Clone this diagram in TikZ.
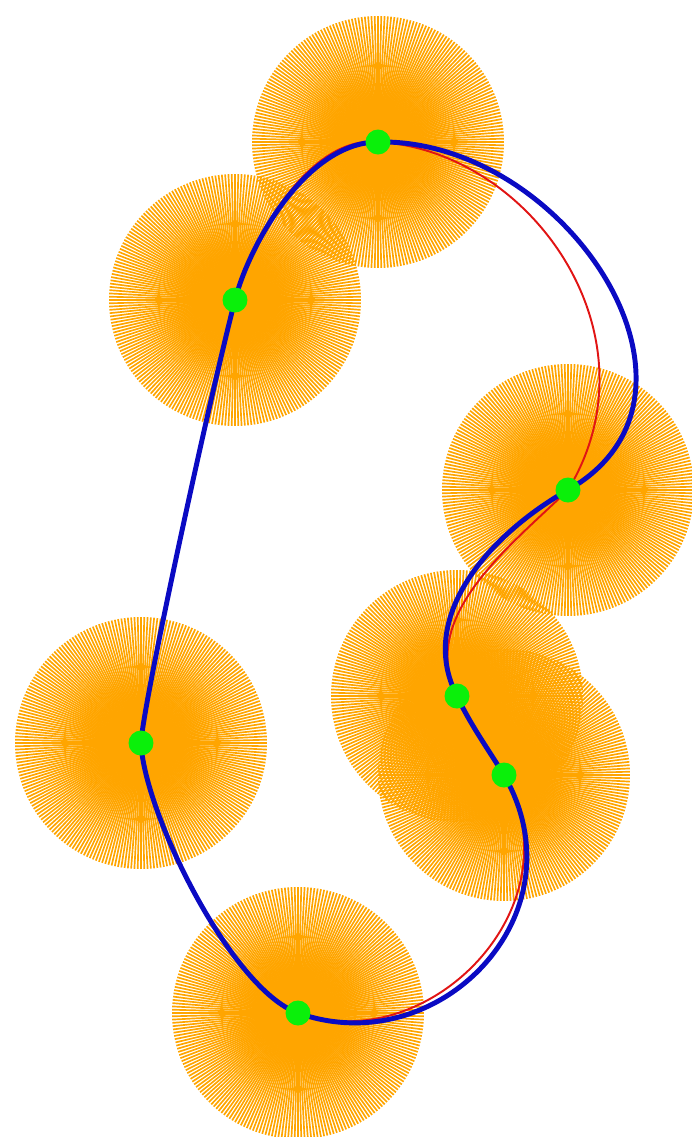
\documentclass[tikz,border=0pt]{standalone}
\definecolor{disk}{RGB}{255,165,0}
\definecolor{dot}{RGB}{10,240,10}
\definecolor{curveblue}{RGB}{10,10,195}
\definecolor{curvered}{RGB}{225,20,20}
\tikzset{
  burst/.style={disk, line width=0.95pt},
  bluecurve/.style={curveblue, line width=2.8pt},
  redcurve/.style={curvered, line width=1.1pt},
  greendot/.style={circle, fill=dot, inner sep=0pt, minimum size=0.5cm}
}
\begin{document}
\begin{tikzpicture}[x=0.02cm,y=-0.02cm]
\useasboundingbox (0,0) rectangle (691,1137);
\coordinate (A) at (378,142);
\coordinate (B) at (568,490);
\coordinate (C) at (457,696);
\coordinate (D) at (504,775);
\coordinate (E) at (298,1013);
\coordinate (F) at (141,743);
\coordinate (G) at (235,300);
\foreach \p in {A,G,B,F,C,D,E}{
  \foreach \a in {0,1.5,...,358.5}{
    \draw[burst] (\p) -- ++(\a:126);
  }
}
% red curve
\draw[redcurve] (A) .. controls (530,150) and (662,335) .. (B)
  .. controls (508,548) and (418,617) .. (C)
  .. controls (470,724) and (488,749) .. (D)
  .. controls (579,905) and (430,1059) .. (E)
  .. controls (232,990) and (144,813) .. (F)
  .. controls (143,703) and (210,397) .. (G)
  .. controls (250,242) and (308,135) .. (A) -- cycle;
% blue curve
\draw[bluecurve] (A) .. controls (565,138) and (735,395) .. (B)
  .. controls (490,534) and (416,617) .. (C)
  .. controls (470,724) and (488,749) .. (D)
  .. controls (584,914) and (439,1063) .. (E)
  .. controls (232,990) and (144,813) .. (F)
  .. controls (143,703) and (210,397) .. (G)
  .. controls (250,242) and (308,142) .. (A) -- cycle;
\foreach \p in {A,B,C,D,E,F,G}{
  \node[greendot] (d\p) at (\p) {};
}
\end{tikzpicture}
\end{document}
